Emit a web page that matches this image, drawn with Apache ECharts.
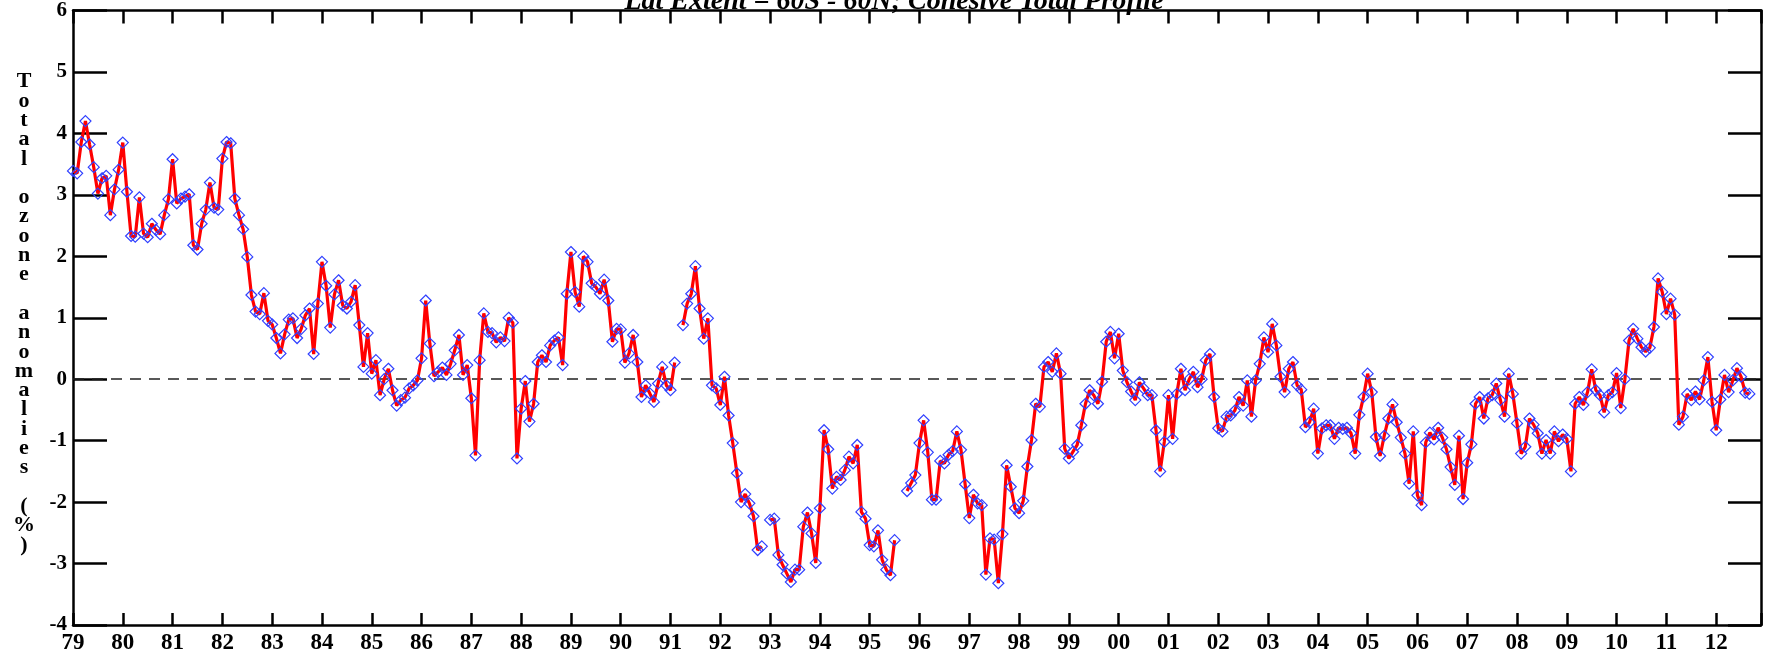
<!DOCTYPE html>
<html><head><meta charset="utf-8">
<script src="https://cdn.jsdelivr.net/npm/echarts@6/dist/echarts.min.js"></script>
<style>html,body{margin:0;padding:0;background:#fff}#c{width:1770px;height:660px}</style>
</head><body><div id="c"></div>
<script>
// Monthly total ozone anomalies (%), one array per year (Jan..Dec); null = missing month
const v1979 = [3.39, 3.35, 3.86, 4.2, 3.82, 3.45, 3.02, 3.27, 3.31, 2.67, 3.09, 3.41];
const v1980 = [3.85, 3.05, 2.33, 2.32, 2.96, 2.37, 2.31, 2.53, 2.43, 2.36, 2.67, 2.93];
const v1981 = [3.58, 2.86, 2.94, 2.97, 3.01, 2.18, 2.11, 2.53, 2.76, 3.2, 2.79, 2.76];
const v1982 = [3.59, 3.86, 3.84, 2.94, 2.67, 2.44, 1.99, 1.37, 1.1, 1.06, 1.4, 0.95];
const v1983 = [0.89, 0.67, 0.42, 0.73, 0.97, 0.99, 0.67, 0.82, 1.04, 1.15, 0.41, 1.23];
const v1984 = [1.91, 1.52, 0.84, 1.38, 1.61, 1.2, 1.15, 1.26, 1.53, 0.88, 0.2, 0.75];
const v1985 = [0.09, 0.31, -0.26, 0.0, 0.17, -0.18, -0.43, -0.34, -0.3, -0.15, -0.1, -0.02];
const v1986 = [0.34, 1.28, 0.58, 0.05, 0.12, 0.19, 0.07, 0.25, 0.47, 0.72, 0.07, 0.23];
const v1987 = [-0.31, -1.24, 0.31, 1.07, 0.77, 0.75, 0.6, 0.68, 0.62, 1.0, 0.92, -1.29];
const v1988 = [-0.48, -0.03, -0.69, -0.4, 0.28, 0.39, 0.28, 0.55, 0.63, 0.68, 0.23, 1.39];
const v1989 = [2.07, 1.42, 1.18, 2.0, 1.91, 1.56, 1.5, 1.39, 1.62, 1.28, 0.61, 0.82];
const v1990 = [0.81, 0.27, 0.42, 0.72, 0.28, -0.29, -0.1, -0.23, -0.37, -0.07, 0.2, -0.1];
const v1991 = [-0.18, 0.27, null, 0.88, 1.23, 1.39, 1.84, 1.15, 0.66, 0.99, -0.1, -0.15];
const v1992 = [-0.42, 0.04, -0.59, -1.04, -1.53, -2.0, -1.87, -2.02, -2.23, -2.78, -2.72, null];
const v1993 = [-2.29, -2.27, -2.86, -3.02, -3.16, -3.3, -3.1, -3.1, -2.4, -2.17, -2.51, -2.99];
const v1994 = [-2.1, -0.83, -1.14, -1.78, -1.59, -1.64, -1.48, -1.26, -1.37, -1.07, -2.16, -2.27];
const v1995 = [-2.7, -2.72, -2.46, -2.94, -3.1, -3.19, -2.62, null, null, -1.82, -1.69, -1.56];
const v1996 = [-1.04, -0.67, -1.19, -1.96, -1.96, -1.33, -1.37, -1.23, -1.17, -0.85, -1.15, -1.71];
const v1997 = [-2.26, -1.88, -2.02, -2.05, -3.18, -2.59, -2.61, -3.32, -2.52, -1.4, -1.75, -2.1];
const v1998 = [-2.18, -1.98, -1.42, -0.99, -0.4, -0.45, 0.2, 0.28, 0.12, 0.42, 0.09, -1.13];
const v1999 = [-1.29, -1.18, -1.07, -0.75, -0.4, -0.18, -0.26, -0.4, -0.04, 0.61, 0.77, 0.34];
const v2000 = [0.74, 0.14, -0.05, -0.2, -0.34, -0.05, -0.15, -0.26, -0.26, -0.83, -1.5, -1.02];
const v2001 = [-0.26, -0.97, -0.24, 0.17, -0.18, 0.0, 0.12, -0.13, 0.0, 0.31, 0.41, -0.29];
const v2002 = [-0.8, -0.85, -0.61, -0.59, -0.51, -0.29, -0.43, -0.02, -0.61, -0.02, 0.25, 0.68];
const v2003 = [0.44, 0.9, 0.55, 0.04, -0.21, 0.17, 0.28, -0.1, -0.17, -0.78, -0.7, -0.48];
const v2004 = [-1.21, -0.8, -0.75, -0.75, -0.97, -0.79, -0.81, -0.79, -0.88, -1.21, -0.58, -0.29];
const v2005 = [0.09, -0.21, -0.94, -1.25, -0.92, -0.64, -0.41, -0.7, -0.95, -1.21, -1.7, -0.85];
const v2006 = [-1.89, -2.05, -1.03, -0.87, -0.98, -0.79, -0.95, -1.14, -1.43, -1.72, -0.92, -1.95];
const v2007 = [-1.36, -1.06, -0.4, -0.29, -0.64, -0.31, -0.26, -0.07, -0.34, -0.61, 0.09, -0.24];
const v2008 = [-0.72, -1.21, -1.1, -0.64, -0.74, -0.88, -1.21, -0.99, -1.21, -0.85, -1.01, -0.9];
const v2009 = [-0.97, -1.5, -0.4, -0.29, -0.42, -0.21, 0.16, -0.18, -0.26, -0.54, -0.26, -0.21];
const v2010 = [0.1, -0.47, 0.0, 0.63, 0.82, 0.66, 0.52, 0.45, 0.51, 0.85, 1.64, 1.42];
const v2011 = [1.06, 1.31, 1.05, -0.74, -0.61, -0.24, -0.34, -0.2, -0.33, -0.02, 0.36, -0.37];
const v2012 = [-0.83, -0.33, 0.07, -0.21, -0.02, 0.18, 0.04, -0.22, -0.24];

const years = [1979,1980,1981,1982,1983,1984,1985,1986,1987,1988,1989,1990,1991,1992,1993,1994,1995,1996,1997,1998,1999,2000,2001,2002,2003,2004,2005,2006,2007,2008,2009,2010,2011,2012];
const yearValues = [v1979,v1980,v1981,v1982,v1983,v1984,v1985,v1986,v1987,v1988,v1989,v1990,v1991,v1992,v1993,v1994,v1995,v1996,v1997,v1998,v1999,v2000,v2001,v2002,v2003,v2004,v2005,v2006,v2007,v2008,v2009,v2010,v2011,v2012];
const xTickLabels = ['79','80','81','82','83','84','85','86','87','88','89','90','91','92','93','94','95','96','97','98','99','00','01','02','03','04','05','06','07','08','09','10','11','12'];
const yAxisName = 'Total ozone anomalies (%)';
const titleText = 'Lat Extent = 60S - 60N; Cohesive Total Profile';

const points = [];
years.forEach((y, k) => yearValues[k].forEach((v, i) => points.push([y + i / 12, v === null ? '-' : v])));

const serif = '"Liberation Serif", "Times New Roman", serif';
const axisLineStyle = {color: '#000', width: 2.5};
const nameVertical = yAxisName.split(' ').map(w => w.split('').join('\n')).join('\n\n');

const chart = echarts.init(document.getElementById('c'), null, {renderer: 'canvas'});
chart.setOption({
  animation: false,
  backgroundColor: '#fff',
  grid: {left: 73, right: 9, top: 10, bottom: 35, containLabel: false},
  xAxis: [{
    type: 'value', min: 1979, max: 2012.9, interval: 1, position: 'bottom',
    axisLine: {show: true, onZero: false, lineStyle: axisLineStyle},
    axisTick: {show: true, inside: true, length: 12, lineStyle: axisLineStyle},
    axisLabel: {show: true, margin: 7, fontFamily: serif, fontWeight: 'bold', fontSize: 23, color: '#000',
      formatter: v => { const i = Math.round(v - 1979); return Math.abs(v - 1979 - i) < 1e-6 && xTickLabels[i] ? xTickLabels[i] : ''; }},
    splitLine: {show: false}
  }, {
    type: 'value', min: 1979, max: 2012.9, interval: 1, position: 'top',
    axisLine: {show: true, onZero: false, lineStyle: axisLineStyle},
    axisTick: {show: true, inside: true, length: 13, lineStyle: axisLineStyle},
    axisLabel: {show: false}, splitLine: {show: false}
  }],
  yAxis: [{
    type: 'value', min: -4, max: 6, interval: 1, position: 'left',
    axisLine: {show: true, onZero: false, lineStyle: axisLineStyle},
    axisTick: {show: true, inside: true, length: 34, lineStyle: axisLineStyle},
    axisLabel: {show: true, margin: 6, fontFamily: serif, fontWeight: 'bold', fontSize: 21, color: '#000'},
    splitLine: {show: false}
  }, {
    type: 'value', min: -4, max: 6, interval: 1, position: 'right',
    axisLine: {show: true, onZero: false, lineStyle: axisLineStyle},
    axisTick: {show: true, inside: true, length: 33, lineStyle: axisLineStyle},
    axisLabel: {show: false}, splitLine: {show: false}
  }],
  series: [{
    type: 'line', data: points, xAxisIndex: 0, yAxisIndex: 0,
    symbol: 'diamond', symbolSize: 11, showSymbol: true, showAllSymbol: true, connectNulls: false,
    lineStyle: {color: '#ff0000', width: 3.2},
    itemStyle: {color: 'rgba(255,255,255,0)', borderColor: '#3040ff', borderWidth: 1.2},
    emphasis: {disabled: true},
    z: 3,
    markLine: {
      silent: true, symbol: 'none', label: {show: false}, z: 1,
      lineStyle: {color: '#222', width: 1.5, type: [11, 8]},
      data: [{yAxis: 0}]
    }
  }],
  graphic: [{
    type: 'text', x: 24, y: 72,
    style: {text: nameVertical, font: 'bold 22px ' + serif, fill: '#000', align: 'center', verticalAlign: 'top', lineHeight: 19.3}
  }, {
    type: 'text', x: 894, y: 16,
    style: {text: titleText, font: 'italic bold 28px ' + serif, fill: '#000', align: 'center', verticalAlign: 'bottom'}
  }]
});
</script></body></html>
